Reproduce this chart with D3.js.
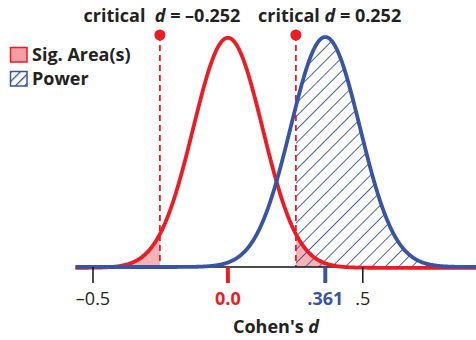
<!DOCTYPE html>
<html>
<head>
<meta charset="utf-8">
<script src="https://cdn.jsdelivr.net/npm/d3@7"></script>
<style>
  html, body { margin: 0; padding: 0; background: #fff; }
  svg { display: block; font-family: "Open Sans", Lato, sans-serif; }
</style>
</head>
<body>
<svg id="chart" width="476" height="340"></svg>
<script>
// Distribution parameters (Cohen's d)
const nullMean = 0;
const effectSize = 0.361;
const criticalValues = [-0.252, 0.252];
const standardError = 0.1286;
const curveRange = [-0.565, 0.93];

// Axis ticks and their labels
const tickValues = [-0.5, 0, 0.361, 0.5];
const tickLabels = ["\u20130.5", "0.0", ".361", ".5"];
const tickKinds = ["plain", "null", "alt", "plain"];
const criticalLabels = ["critical  ", "critical "];
const criticalLabelValues = ["\u20130.252", "0.252"];
const legendLabels = ["Sig. Area(s)", "Power"];

const RED = "#ec1c24";
const BLUE = "#3a54a4";
const PINK = "#f6b3b6";

const svg = d3.select("#chart");

const x = d3.scaleLinear().domain([-0.5, 0.5]).range([93, 362.8]);
const peak = 1 / (standardError * Math.sqrt(2 * Math.PI));
const y = d3.scaleLinear().domain([0, peak]).range([267, 37]);

function density(mean) {
  return v => Math.exp(-0.5 * ((v - mean) / standardError) ** 2) / (standardError * Math.sqrt(2 * Math.PI));
}
const nullPdf = density(nullMean);
const altPdf = density(effectSize);

const step = 0.002;
const grid = d3.range(curveRange[0], curveRange[1] + step / 2, step);

const line = d3.line().x(d => x(d[0])).y(d => y(d[1]));
const area = d3.area().x(d => x(d[0])).y0(y(0)).y1(d => y(d[1]));

function samples(pdf, lo, hi) {
  const pts = d3.range(lo, hi, step).map(v => [v, pdf(v)]);
  pts.push([hi, pdf(hi)]);
  return pts;
}

// Hatch patterns
const defs = svg.append("defs");
defs.append("pattern")
  .attr("id", "hatch")
  .attr("patternUnits", "userSpaceOnUse")
  .attr("width", 9.4).attr("height", 9.4)
  .attr("patternTransform", "rotate(45)")
  .append("line")
  .attr("x1", 0).attr("y1", 0).attr("x2", 0).attr("y2", 9.4)
  .attr("stroke", BLUE).attr("stroke-width", 1.8);

defs.append("pattern")
  .attr("id", "hatchLegend")
  .attr("patternUnits", "userSpaceOnUse")
  .attr("width", 6.5).attr("height", 6.5)
  .attr("patternTransform", "translate(10,72) rotate(45)")
  .append("line")
  .attr("x1", 0).attr("y1", 0).attr("x2", 0).attr("y2", 6.5)
  .attr("stroke", BLUE).attr("stroke-width", 2.6);

// Significance regions under the null curve
svg.append("path")
  .datum(samples(nullPdf, curveRange[0], criticalValues[0]))
  .attr("d", area).attr("fill", PINK);
svg.append("path")
  .datum(samples(nullPdf, criticalValues[1], curveRange[1]))
  .attr("d", area).attr("fill", PINK);

// Power region under the alternative curve
svg.append("path")
  .datum(samples(altPdf, criticalValues[1], curveRange[1]))
  .attr("d", area).attr("fill", "url(#hatch)");

// Critical value markers
criticalValues.forEach(c => {
  svg.append("line")
    .attr("x1", x(c)).attr("x2", x(c))
    .attr("y1", 35).attr("y2", y(0))
    .attr("stroke", RED).attr("stroke-width", 1.8)
    .attr("stroke-dasharray", "6,4");
  svg.append("circle")
    .attr("cx", x(c)).attr("cy", 35).attr("r", 5.5)
    .attr("fill", RED);
});

// Axis baseline
svg.append("line")
  .attr("x1", x(curveRange[0]) + 1).attr("x2", 476)
  .attr("y1", y(0)).attr("y2", y(0))
  .attr("stroke", "#111").attr("stroke-width", 1.5);

// Density curves
svg.append("path")
  .datum(grid.map(v => [v, nullPdf(v)]))
  .attr("d", line)
  .attr("transform", "translate(0,0.8)")
  .attr("fill", "none").attr("stroke", RED).attr("stroke-width", 3.8)
  .attr("stroke-linejoin", "round");
svg.append("path")
  .datum(grid.map(v => [v, altPdf(v)]))
  .attr("d", line)
  .attr("fill", "none").attr("stroke", BLUE).attr("stroke-width", 3.8)
  .attr("stroke-linejoin", "round");

// Ticks and tick labels
const tickColor = { plain: "#111", null: RED, alt: BLUE };
tickValues.forEach((v, i) => {
  const kind = tickKinds[i];
  svg.append("line")
    .attr("x1", x(v)).attr("x2", x(v))
    .attr("y1", y(0)).attr("y2", 283)
    .attr("stroke", tickColor[kind])
    .attr("stroke-width", kind === "plain" ? 1.5 : 4);
  svg.append("text")
    .attr("x", x(v)).attr("y", 304.5)
    .attr("text-anchor", "middle")
    .attr("font-size", 18)
    .attr("font-weight", kind === "plain" ? 400 : 700)
    .attr("fill", kind === "plain" ? "#222" : tickColor[kind])
    .text(tickLabels[i]);
});

// Axis title
const title = svg.append("text")
  .attr("x", 276).attr("y", 333)
  .attr("text-anchor", "middle")
  .attr("font-size", 18).attr("font-weight", 700).attr("fill", "#222");
title.append("tspan").text("Cohen's ");
title.append("tspan").attr("font-style", "italic").text("d");

// Critical value labels
const critAnchors = [{ x: 162, anchor: "middle" }, { x: 258, anchor: "start" }];
criticalValues.forEach((c, i) => {
  const t = svg.append("text")
    .attr("x", critAnchors[i].x).attr("y", 22)
    .attr("text-anchor", critAnchors[i].anchor)
    .attr("font-size", 18).attr("font-weight", 700).attr("fill", "#222")
    .attr("xml:space", "preserve");
  t.append("tspan").text(criticalLabels[i]);
  t.append("tspan").attr("font-style", "italic").text("d");
  t.append("tspan").text(" = " + criticalLabelValues[i]);
});

// Legend
svg.append("rect")
  .attr("x", 10.5).attr("y", 47.5).attr("width", 16.5).attr("height", 14.5)
  .attr("fill", "#f49da2").attr("stroke", RED).attr("stroke-width", 1.5);
svg.append("rect")
  .attr("x", 10.5).attr("y", 71.5).attr("width", 16.5).attr("height", 14.5)
  .attr("fill", "url(#hatchLegend)").attr("stroke", BLUE).attr("stroke-width", 1.5);
legendLabels.forEach((lab, i) => {
  svg.append("text")
    .attr("x", 32).attr("y", 61 + i * 24)
    .attr("font-size", 18).attr("font-weight", 700).attr("fill", "#222")
    .text(lab);
});
</script>
</body>
</html>
